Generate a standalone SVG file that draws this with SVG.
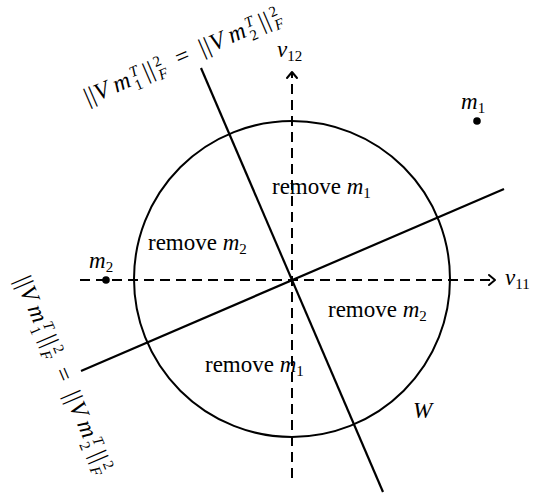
<svg xmlns="http://www.w3.org/2000/svg" width="541" height="498" viewBox="0 0 541 498">
<style>
text{font-family:"Liberation Serif","DejaVu Serif",serif;font-size:23px;fill:#000}
.i{font-style:italic}
.s{font-size:15px}
.eq{font-size:24px}
.eq .s{font-size:15px}
.ax{stroke:#000;stroke-width:2;fill:none;stroke-dasharray:10 6}
.ln{stroke:#000;stroke-width:2.2;fill:none}
.ah{stroke:#000;stroke-width:2;fill:none;stroke-linecap:round;stroke-linejoin:round}
</style>
<rect width="541" height="498" fill="#fff"/>
<g id="connectors">
<line class="ax" x1="80" y1="280" x2="494" y2="280"/>
<polyline class="ah" points="489,275 495,280 489,285"/>
<line class="ax" x1="292" y1="478" x2="292" y2="73"/>
<polyline class="ah" points="287,78 292,72 297,78"/>
<line class="ln" x1="201" y1="68" x2="383" y2="492"/>
<line class="ln" x1="81" y1="371" x2="504" y2="189"/>
</g>
<g id="circle-W">
<circle cx="292" cy="279" r="158" fill="none" stroke="#000" stroke-width="2"/>
<text x="413" y="418" class="i">W</text>
</g>
<g id="axis-v11"><text x="505" y="285"><tspan class="i">v</tspan><tspan class="s" dy="4">11</tspan></text></g>
<g id="axis-v12"><text x="277" y="57"><tspan class="i">v</tspan><tspan class="s" dy="4">12</tspan></text></g>
<g id="point-m1">
<circle cx="477" cy="121" r="3.8" fill="#000"/>
<text x="461" y="109"><tspan class="i">m</tspan><tspan class="s" dy="4">1</tspan></text>
</g>
<g id="point-m2">
<circle cx="106" cy="280" r="3.8" fill="#000"/>
<text x="89" y="268"><tspan class="i">m</tspan><tspan class="s" dy="4">2</tspan></text>
</g>
<g id="region-top"><text x="272" y="194">remove <tspan class="i">m</tspan><tspan class="s" dy="4">1</tspan></text></g>
<g id="region-left"><text x="148" y="250">remove <tspan class="i">m</tspan><tspan class="s" dy="4">2</tspan></text></g>
<g id="region-right"><text x="328" y="317">remove <tspan class="i">m</tspan><tspan class="s" dy="4">2</tspan></text></g>
<g id="region-bottom"><text x="205" y="372">remove <tspan class="i">m</tspan><tspan class="s" dy="4">1</tspan></text></g>
<g id="label-line1" transform="translate(88,105) rotate(-23.23)">
<text class="eq"><tspan x="0" y="0">|</tspan><tspan x="5.5">|</tspan><tspan x="11" class="i">V</tspan><tspan x="31" class="i">m</tspan><tspan x="51" y="-8" class="i s">T</tspan><tspan x="51" y="6" class="s">1</tspan><tspan x="64" y="0">|</tspan><tspan x="69.5">|</tspan><tspan x="77" y="-8" class="s">2</tspan><tspan x="77" y="6" class="i s">F</tspan><tspan x="99" y="0">=</tspan><tspan x="125">|</tspan><tspan x="130.5">|</tspan><tspan x="136.5" class="i">V</tspan><tspan x="156.5" class="i">m</tspan><tspan x="176.5" y="-8" class="i s">T</tspan><tspan x="176.5" y="6" class="s">2</tspan><tspan x="190" y="0">|</tspan><tspan x="195.5">|</tspan><tspan x="203" y="-8" class="s">2</tspan><tspan x="203" y="6" class="i s">F</tspan></text>
</g>
<g id="label-line2" transform="translate(15,280) rotate(66.77)">
<text class="eq"><tspan x="0" y="0">|</tspan><tspan x="5.5">|</tspan><tspan x="11" class="i">V</tspan><tspan x="31" class="i">m</tspan><tspan x="51" y="-8" class="i s">T</tspan><tspan x="51" y="6" class="s">1</tspan><tspan x="64" y="0">|</tspan><tspan x="69.5">|</tspan><tspan x="77" y="-8" class="s">2</tspan><tspan x="77" y="6" class="i s">F</tspan><tspan x="99" y="0">=</tspan><tspan x="125">|</tspan><tspan x="130.5">|</tspan><tspan x="136.5" class="i">V</tspan><tspan x="156.5" class="i">m</tspan><tspan x="176.5" y="-8" class="i s">T</tspan><tspan x="176.5" y="6" class="s">2</tspan><tspan x="190" y="0">|</tspan><tspan x="195.5">|</tspan><tspan x="203" y="-8" class="s">2</tspan><tspan x="203" y="6" class="i s">F</tspan></text>
</g>
</svg>
